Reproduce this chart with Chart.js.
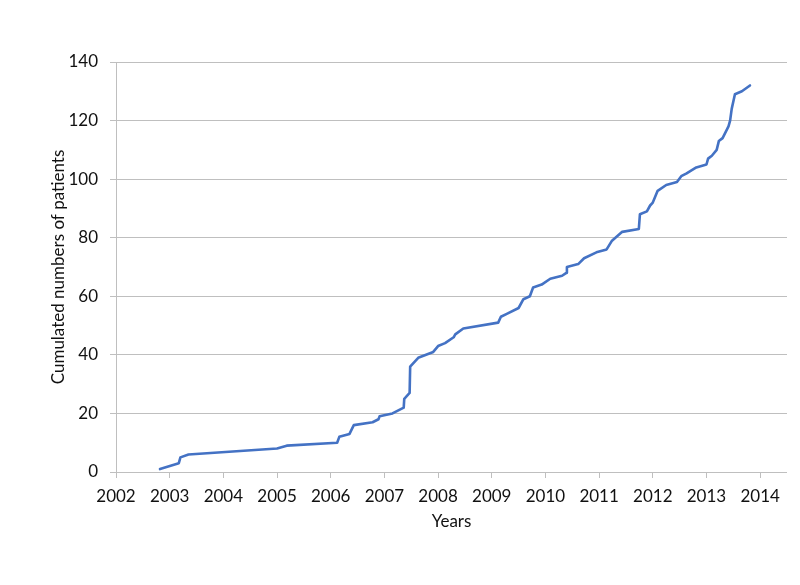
<!DOCTYPE html>
<html>
<head>
<meta charset="utf-8">
<script src="https://cdn.jsdelivr.net/npm/chart.js@4"></script>
<style>
  html, body { margin: 0; padding: 0; background: #fff; }
  #wrap { width: 800px; height: 585px; }
</style>
</head>
<body>
<div id="wrap"><canvas id="myChart" width="800" height="585"></canvas></div>
<script>
// time of each inclusion (decimal years) and cumulated count
var years = [2002.82, 2003.17, 2003.2, 2003.35, 2005.0, 2005.18, 2006.12, 2006.16, 2006.35, 2006.43,
  2006.78, 2006.89, 2006.91, 2007.15, 2007.36, 2007.37, 2007.47, 2007.48, 2007.63, 2007.91,
  2008.0, 2008.13, 2008.29, 2008.32, 2008.47, 2009.12, 2009.17, 2009.28, 2009.5, 2009.59,
  2009.71, 2009.77, 2009.93, 2010.09, 2010.31, 2010.39, 2010.4, 2010.61, 2010.72, 2010.95,
  2011.14, 2011.24, 2011.43, 2011.74, 2011.76, 2011.89, 2011.95, 2012.0, 2012.09, 2012.25,
  2012.45, 2012.53, 2012.63, 2012.81, 2013.0, 2013.03, 2013.1, 2013.19, 2013.23, 2013.3,
  2013.41, 2013.44, 2013.47, 2013.53, 2013.66, 2013.81];
var patients = [1, 3, 5, 6, 8, 9, 10, 12, 13, 16,
  17, 18, 19, 20, 22, 25, 27, 36, 39, 41,
  43, 44, 46, 47, 49, 51, 53, 54, 56, 59,
  60, 63, 64, 66, 67, 68, 70, 71, 73, 75,
  76, 79, 82, 83, 88, 89, 91, 92, 96, 98,
  99, 101, 102, 104, 105, 107, 108, 110, 113, 114,
  118, 120, 124, 129, 130, 132];

var points = years.map(function (y, i) { return { x: y, y: patients[i] }; });

var font = 'Lato, "Open Sans", sans-serif';
var grey = '#BFBFBF';

var ctx = document.getElementById('myChart').getContext('2d');
var chart = new Chart(ctx, {
  type: 'line',
  data: {
    datasets: [{
      data: points,
      borderColor: '#4472C4',
      borderWidth: 2.6,
      pointRadius: 0,
      fill: false,
      tension: 0,
      borderJoinStyle: 'round',
      borderCapStyle: 'round'
    }]
  },
  options: {
    responsive: false,
    animation: false,
    layout: { padding: { top: 62, right: 13, left: 44, bottom: 49 } },
    plugins: { legend: { display: false }, tooltip: { enabled: false } },
    scales: {
      x: {
        type: 'linear',
        min: 2002,
        max: 2014.5,
        grid: { drawOnChartArea: false, color: grey, tickLength: 6 },
        border: { display: false },
        ticks: {
          stepSize: 1,
          includeBounds: false,
          maxRotation: 0,
          color: '#111',
          padding: 8,
          font: { family: font, size: 17 },
          callback: function (v) { return String(v); }
        },
        title: {
          display: true,
          text: 'Years',
          color: '#111',
          padding: { top: 6, bottom: 4 },
          font: { family: font, size: 17 }
        },
        afterFit: function (s) { s.height = 64; }
      },
      y: {
        min: 0,
        max: 140,
        grid: { color: grey, tickLength: 6 },
        border: { display: true, color: grey },
        ticks: {
          stepSize: 20,
          color: '#111',
          padding: 12,
          font: { family: font, size: 17 }
        },
        title: {
          display: true,
          text: 'Cumulated numbers of patients',
          color: '#111',
          padding: { top: 4, bottom: 4 },
          font: { family: font, size: 17 }
        },
        afterFit: function (s) { s.width = 72; }
      }
    }
  }
});
</script>
</body>
</html>
